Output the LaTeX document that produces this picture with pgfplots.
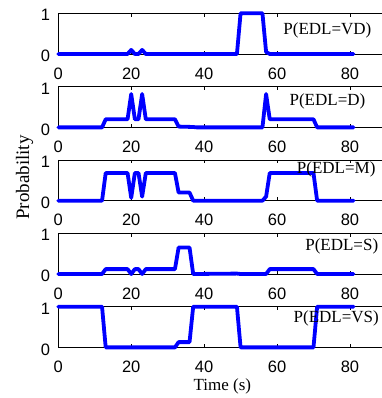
\documentclass[border=0pt]{standalone}
\usepackage{fontspec}
\setmainfont{Liberation Serif}
\setsansfont{Liberation Sans}
\usepackage{pgfplots}
\pgfplotsset{compat=1.18}
\definecolor{mblue}{RGB}{0,0,255}
\pgfplotsset{
  edl/.style={
    scale only axis,
    width=328.1pt, height=40.7pt,
    anchor=north west,
    xmin=0, xmax=90, ymin=0, ymax=1,
    xtick={0,20,40,60,80}, ytick={0,1},
    tick align=inside,
    major tick length=3.3pt,
    axis line style={black, line width=0.8pt},
    every tick/.style={black, line width=0.7pt},
    clip=false,
    /pgf/number format/assume math mode=true,
    ticklabel style={font=\sffamily\fontsize{16.5}{18}\selectfont},
    xticklabel style={anchor=north, inner sep=0pt, yshift=-13.5pt},
    yticklabel style={anchor=east, inner sep=0pt, xshift=-8pt, yshift=-2pt},
  },
  edlline/.style={mblue, line width=3.8pt, line join=round, line cap=round},
}
\newcommand{\lab}[3]{\node[anchor=west, inner sep=0pt, font=\fontsize{17}{19}\selectfont] at (axis cs:#1,#2) {#3};}
\begin{document}
\begin{tikzpicture}
% VD
\begin{axis}[edl, at={(58.3pt,384.7pt)}]
\addplot[edlline] coordinates {(0,0)(19,0)(20,0.1)(21,0)(22,0)(23,0.1)(24,0)(49,0)(50,1)(56,1)(57,0.05)(58,0)(81,0)};
\lab{61.7}{0.57}{P(EDL=VD)}
\end{axis}
% D
\begin{axis}[edl, at={(58.3pt,311.3pt)}]
\addplot[edlline] coordinates {(0,0)(12,0)(13,0.2)(19,0.2)(20,0.82)(21,0.2)(22,0.2)(23,0.82)(24,0.2)(32,0.2)(33,0.02)(37,0.01)(38,0)(56,0)(57,0.82)(58,0.2)(70,0.2)(71,0)(81,0)};
\lab{63.4}{0.65}{P(EDL=D)}
\end{axis}
% M
\begin{axis}[edl, at={(58.3pt,238pt)}]
\addplot[edlline] coordinates {(0,0)(12,0)(13,0.68)(19,0.68)(20,0.07)(21,0.68)(22,0.68)(23,0.1)(24,0.68)(32,0.68)(33,0.2)(36,0.2)(37,0)(56,0)(57,0.1)(58,0.68)(70,0.68)(71,0)(81,0)};
\lab{65.4}{0.78}{P(EDL=M)}
\end{axis}
% S
\begin{axis}[edl, at={(58.3pt,164.7pt)}]
\addplot[edlline] coordinates {(0,0)(12,0)(13,0.12)(19,0.12)(20,0)(21,0.12)(22,0.12)(23,0)(24,0.12)(32,0.12)(33,0.65)(36,0.65)(37,0)(49,0.01)(50,0)(57,0)(58,0.12)(70,0.12)(71,0)(81,0)};
\lab{67.7}{0.67}{P(EDL=S)}
\end{axis}
% VS
\begin{axis}[edl, at={(58.3pt,91.3pt)}]
\addplot[edlline] coordinates {(0,1)(12,1)(13,0)(32,0)(33,0.13)(36,0.13)(37,1)(49,1)(50,0)(70,0)(71,1)(81,1)};
\lab{64.5}{0.70}{P(EDL=VS)}
\end{axis}
\node[anchor=base, inner sep=0pt, font=\fontsize{17}{19}\selectfont] at (222.4pt,7.3pt) {Time (s)};
\node[anchor=base, rotate=90, inner sep=0pt, font=\fontsize{19}{21}\selectfont] at (29pt,220.5pt) {Probability};
\pgfresetboundingbox
\path[use as bounding box] (0,0) rectangle (381pt,398pt);
\end{tikzpicture}
\end{document}
